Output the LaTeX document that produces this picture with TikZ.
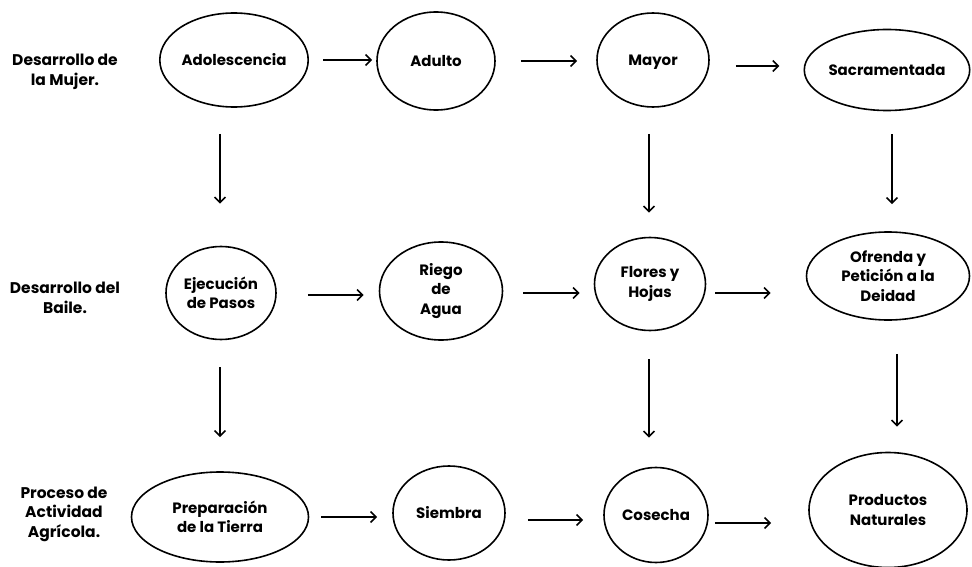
\documentclass[tikz,border=0pt]{standalone}
\usepackage{fontspec}
\setmainfont{Poppins}
\usetikzlibrary{shapes.geometric,arrows.meta,calc}
\begin{document}
\begin{tikzpicture}[x=1pt,y=-1pt,
  stage/.style={ellipse,draw,line width=1.6pt,inner sep=0pt,align=center,
    font=\bfseries\fontsize{15}{19.5}\selectfont},
  oneline/.style={text height=11pt,text depth=-1pt},
  rowlabel/.style={align=center,font=\bfseries\fontsize{15.5}{19.5}\selectfont},
  arr/.style={line width=1.6pt,-{Straight Barb[length=5.5pt,width=11pt,line width=1.6pt]}}]
\useasboundingbox[fill=white] (0,0) rectangle (972,567);

% row labels
\node[rowlabel] (lmujer) at (65,72) {Desarrollo de\\la Mujer.};
\node[rowlabel] (lbaile) at (65,298) {Desarrollo del\\Baile.};
\node[rowlabel] (lagri)  at (64,514) {Proceso de\\Actividad\\Agrícola.};

% first row
\node[stage,oneline,minimum width=137,minimum height=94] (adol)  at (234,60) {Adolescencia};
\node[stage,oneline,minimum width=118,minimum height=98] (adulto) at (436,61) {Adulto};
\node[stage,oneline,minimum width=112,minimum height=94] (mayor) at (653,60) {Mayor};
\node[stage,oneline,minimum width=140,minimum height=81] (sacra) at (887,70) {Sacramentada};

% second row
\node[stage,minimum width=110,minimum height=93] (ejec)  at (221,293) {Ejecución\\de Pasos};
\node[stage,minimum width=123,minimum height=98] (riego) at (441,291) {Riego\\de\\Agua};
\node[stage,minimum width=111,minimum height=93] (flores) at (650,284) {Flores y\\Hojas};
\node[stage,minimum width=163,minimum height=88] (ofrenda) at (888,276) {Ofrenda y\\Petición a la\\Deidad};

% third row
\node[stage,minimum width=177,minimum height=90] (prep) at (220,517) {Preparación\\de la Tierra};
\node[stage,oneline,minimum width=112,minimum height=94] (siembra) at (449,513) {Siembra};
\node[stage,oneline,minimum width=104,minimum height=95] (cosecha) at (656,515) {Cosecha};
\node[stage,minimum width=158,minimum height=115] (productos) at (888,510) {Productos\\Naturales};

% horizontal arrows: start gap, end gap, vertical offset
\foreach \a/\b/\ga/\gb/\dy in {adol/adulto/14/4/0, adulto/mayor/25/19/0, mayor/sacra/26/24/6,
    ejec/riego/31/15/2, riego/flores/20/14/2, flores/ofrenda/9/35/9,
    prep/siembra/12/15/0, siembra/cosecha/22/20/7, cosecha/productos/6/37/8}
  \draw[arr] ($(\a.east)+(\ga,\dy)$) -- ($(\a.east -| \b.west)+(-\gb,\dy)$);

% vertical arrows: horizontal offset, start gap, end gap
\foreach \a/\b/\dx/\ga/\gb in {adol/ejec/-1/26/42, mayor/flores/-1/26/24, sacra/ofrenda/4/23/27,
    ejec/prep/0/27/34, flores/cosecha/-7/28/29, ofrenda/productos/9/33/25}
  \draw[arr] ($(\a.south -| \b.north)+(\dx,\ga)$) -- ($(\b.north)+(\dx,-\gb)$);
\end{tikzpicture}
\end{document}
